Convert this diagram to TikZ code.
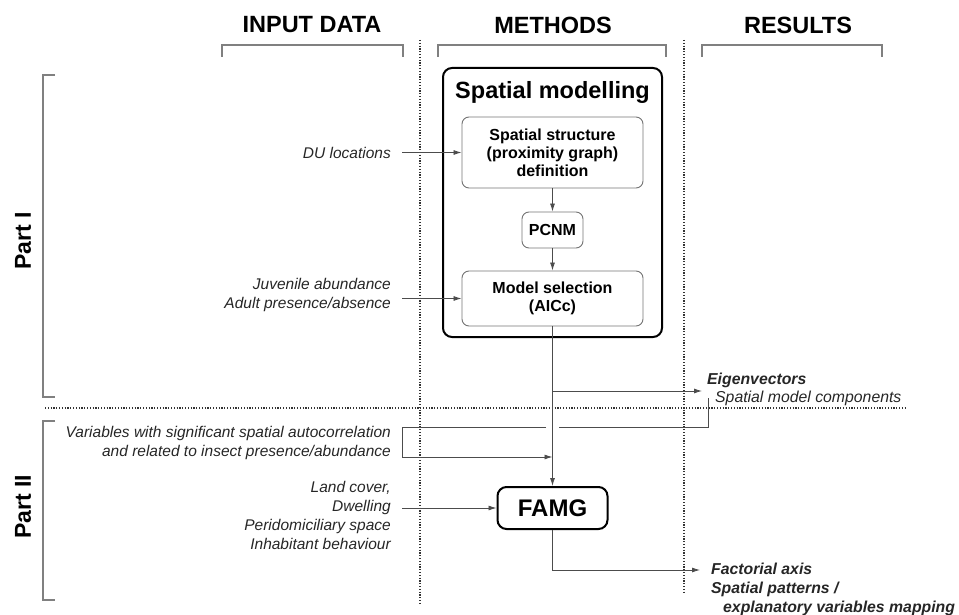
\documentclass[tikz,border=0pt]{standalone}
\usepackage{fontspec}
\setmainfont{Liberation Sans}
\usetikzlibrary{arrows.meta}

\begin{document}
\begin{tikzpicture}[x=1pt,y=-1pt,
    head/.style={font=\fontsize{23.5}{26}\selectfont\bfseries},
    partlbl/.style={font=\fontsize{23}{26}\selectfont\bfseries,rotate=90},
    inbox/.style={draw=black!55,line width=0.9pt,rounded corners=7pt,align=center,inner sep=0pt,font=\fontsize{16}{18}\selectfont\bfseries},
    bigbox/.style={draw,line width=2pt,rounded corners=9pt,inner sep=0pt},
    intext/.style={font=\fontsize{15.5}{19}\selectfont\itshape,align=right,anchor=east,inner sep=0pt,text=black!85},
    restext/.style={font=\fontsize{15.8}{19}\selectfont\itshape,align=left,anchor=west,inner sep=0pt,text=black!85},
    conn/.style={draw=black!70,line width=0.8pt},
    arr/.style={conn,-{Latex[length=8pt,width=5pt]}},
    sep/.style={draw=black!80,line width=1.6pt,dash pattern=on 1.2pt off 1.6pt},
    brk/.style={draw=black!50,line width=1.1pt}]
  \useasboundingbox (0,0) rectangle (959,615);

  % column heads and brackets
  \node[head] (hin) at (312,25) {INPUT DATA};
  \node[head] (hmeth) at (553,25) {METHODS};
  \node[head] (hres) at (798,25) {RESULTS};
  \foreach \a/\b in {222/403,438/666,702/882} \draw[brk] (\a,57) -- (\a,45) -- (\b,45) -- (\b,57);

  % parts
  \draw[brk] (55,75) -- (43,75) -- (43,397) -- (55,397);
  \draw[brk] (55,421) -- (43,421) -- (43,600) -- (55,600);
  \node[partlbl] (p1) at (23,241) {Part I};
  \node[partlbl] (p2) at (23,507) {Part II};

  % separators
  \draw[sep] (420,40) -- (420,605);
  \draw[sep] (684,40) -- (684,594);
  \draw[sep] (45,408) -- (905,408);

  % methods
  \node[bigbox,minimum width=219,minimum height=269] (spmod) at (552.5,202.5) {};
  \node[head] (spmodt) at (552.5,92) {Spatial modelling};
  \node[inbox,minimum width=181,minimum height=71] (sps) at (552.5,152.5) {Spatial structure\\(proximity graph)\\definition};
  \node[inbox,minimum width=61,minimum height=36] (pcnm) at (552.5,230) {PCNM};
  \node[inbox,minimum width=181,minimum height=55] (msel) at (552.5,298.5) {Model selection\\(AICc)};
  \node[bigbox,minimum width=110,minimum height=42,font=\fontsize{24}{26}\selectfont\bfseries] (famg) at (552.5,508) {FAMG};

  % input data
  \node[intext] (du) at (391,153) {DU locations};
  \node[intext] (juv) at (391,295) {Juvenile abundance\\Adult presence/absence};
  \node[intext] (var) at (391,443) {Variables with significant spatial autocorrelation\\and related to insect presence/abundance};
  \node[intext] (land) at (391,515) {Land cover,\\Dwelling\\Peridomiciliary space\\Inhabitant behaviour};

  % results
  \node[restext,font=\fontsize{15.8}{19}\selectfont\bfseries\itshape] (eig) at (707,380) {Eigenvectors};
  \node[restext] (spc) at (715,398) {Spatial model components};
  \node[restext,font=\fontsize{15.8}{19}\selectfont\bfseries\itshape] (fact) at (711,589) {Factorial axis\\Spatial patterns /\\\hspace*{12pt}explanatory variables mapping};

  % connectors
  \coordinate (fb) at (402,427);
  \coordinate (varin) at (402,457);
  \coordinate (gapR) at (559,427);
  \coordinate (gapL) at (546,427);
  \coordinate (eigin) at (702,391);
  \coordinate (factin) at (700,570);
  \draw[arr] (sps.west -| fb) -- (sps.west);
  \draw[arr] (msel.west -| fb) -- (msel.west);
  \draw[arr] (sps) -- (pcnm);
  \draw[arr] (pcnm) -- (msel);
  \draw[arr] (msel) -- (famg);
  \draw[arr] (eigin -| msel.south) -- (eigin);
  \draw[conn] ([xshift=-7pt]spc.west) |- (gapR);
  \draw[conn] (gapL) -- (fb) -- (varin);
  \draw[arr] (varin) -- (varin -| famg.north);
  \draw[arr] (famg.west -| fb) -- (famg.west);
  \draw[arr] (famg.south) |- (factin);
\end{tikzpicture}
\end{document}
